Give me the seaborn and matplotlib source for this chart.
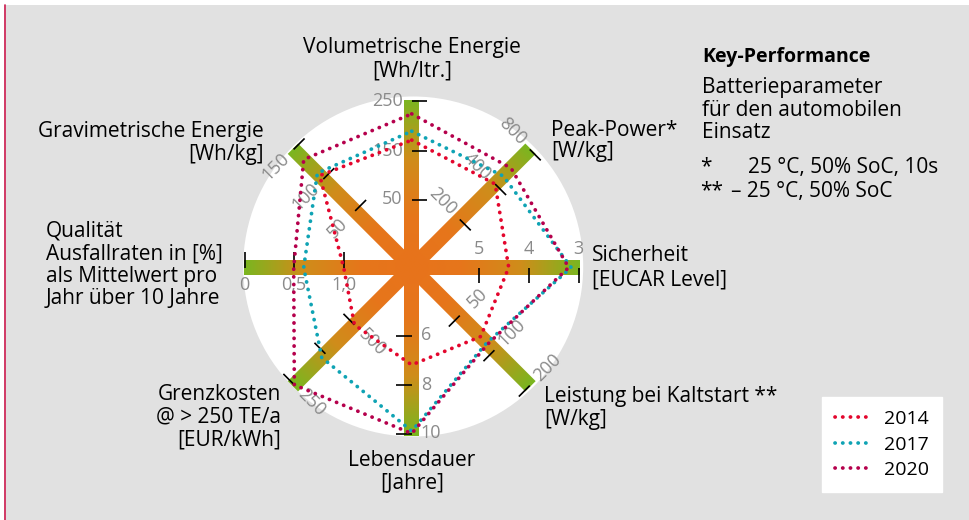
import numpy as np
import pandas as pd
import matplotlib
matplotlib.use("Agg")
import matplotlib.pyplot as plt
import seaborn as sns
from matplotlib.colors import LinearSegmentedColormap
from matplotlib.collections import LineCollection
from matplotlib.patches import Polygon, Circle, Rectangle
from matplotlib.lines import Line2D


# Achsen des Netzdiagramms, im Uhrzeigersinn ab oben
achsen = ["Volumetrische Energie", "Peak-Power", "Sicherheit", "Kaltstart",
          "Lebensdauer", "Grenzkosten", "Qualität", "Gravimetrische Energie"]
skala = ["lin", "log", "lin", "log", "lin", "lin", "lin", "lin"]
tick_werte = [[50, 150, 250], [200, 400, 800], [5, 4, 3], [50, 100, 200],
              [6, 8, 10], [500, 375, 250], [1.0, 0.5, 0.0], [50, 100, 150]]
tick_texte = [["50", "150", "250"], ["200", "400", "800"], ["5", "4", "3"],
              ["50", "100", "200"], ["6", "8", "10"], ["500", "", "250"],
              ["1,0", "0,5", "0"], ["50", "100", "150"]]

jahre = ["2014", "2017", "2020"]
werte_2014 = [171, 400, 4.4, 76, 7.2, 500, 1.0, 106]
werte_2017 = [189, 470, 3.15, 86, 9.9, 360, 0.6, 110]
werte_2020 = [224, 550, 3.2, 88, 10, 250, 0.5, 133]

farben = {"2014": "#e3062d", "2017": "#0fa3b4", "2020": "#b5004c"}

# Layout (Pixelkoordinaten)
cx, cy = 411.7, 267.5
L = 168.0
halbe_breite = 7.3
winkel = [90, 45, 0, -45, -90, -135, 180, 135]
tick_radius = [[68, 117, 166.5], [68, 118, 167], [67, 117, 167], [68, 117, 167],
               [68, 117, 166], [81, 122, 166], [68, 118, 167], [80, 125, 167]]


def richtung(w):
    a = np.deg2rad(w)
    return np.array([np.cos(a), -np.sin(a)])


def radius(i, v):
    t = np.array(tick_werte[i], float)
    v = float(v)
    if skala[i] == "log":
        t, v = np.log(t), np.log(v)
    if t[0] > t[-1]:
        t, v = -t, -v
    return np.interp(v, t, tick_radius[i])


sns.set_theme(style="white")
plt.rcParams["font.family"] = ["Open Sans", "DejaVu Sans"]
plt.rcParams["text.color"] = "black"

fig = plt.figure(figsize=(9.69, 5.2), dpi=100, facecolor="white")
ax = fig.add_axes([0, 0, 1, 1])
ax.axis("off")

ax.add_patch(Rectangle((6, 5), 969, 520, facecolor="#e1e1e1", edgecolor="none", zorder=0))
ax.plot([5.5, 5.5], [5, 520], color="#c8174a", lw=1.2, zorder=1)
ax.add_patch(Circle((cx + 1.5, cy - 1), 170, facecolor="white", edgecolor="none", zorder=1))

# Balken mit Farbverlauf orange -> gruen
cmap = LinearSegmentedColormap.from_list(
    "balken", [(0, "#e8731b"), (0.3, "#e6761b"), (0.65, "#cf8d1a"), (1.0, "#7ab620")])
n = 500
xs = np.linspace(cx - L - 4, cx + L + 4, n)
ys = np.linspace(cy - L - 4, cy + L + 4, n)
X, Y = np.meshgrid(xs, ys)
bild = cmap(np.clip(np.hypot(X - cx, Y - cy) / L, 0, 1))
for w in [90, 45, 0, -45]:
    d = richtung(w)
    p = richtung(w + 90)
    c = np.array([cx, cy])
    ecken = [c + L * d + halbe_breite * p, c + L * d - halbe_breite * p,
             c - L * d - halbe_breite * p, c - L * d + halbe_breite * p]
    im = ax.imshow(bild, extent=(xs[0], xs[-1], ys[-1], ys[0]), origin="upper",
                   aspect="auto", zorder=2, interpolation="bilinear")
    im.set_clip_path(Polygon(ecken, closed=True, transform=ax.transData))

# Ticks und Tick-Beschriftungen
grau = "#8a8a8a"
segmente = []
for i, w in enumerate(winkel):
    d, q, p = richtung(w), richtung(w - 90), richtung(w + 90)
    for r, txt in zip(tick_radius[i], tick_texte[i]):
        pt = np.array([cx, cy]) + r * d
        segmente.append([pt, pt + 15.5 * q])
        if not txt:
            continue
        if w in (45, -45, -135, 135):
            rot = (w - 90 + 90) % 180 - 90
            pos = pt + 25 * p
            ax.text(pos[0], pos[1], txt, ha="center", va="center", rotation=rot,
                    rotation_mode="anchor", color=grau, fontsize=13, zorder=3)
        else:
            pos = pt + 9 * p
            ha = {90: "right", 0: "center", -90: "left", 180: "center"}[w]
            va = {90: "center", 0: "bottom", -90: "center", 180: "top"}[w]
            ax.text(pos[0], pos[1], txt, ha=ha, va=va, color=grau,
                    fontsize=13, zorder=3)
ax.add_collection(LineCollection(segmente, colors="black", linewidths=1.2, zorder=3))

# Datenreihen
zeilen = []
for jahr, werte in zip(jahre, [werte_2014, werte_2017, werte_2020]):
    for k in list(range(len(achsen))) + [0]:
        pt = np.array([cx, cy]) + radius(k, werte[k]) * richtung(winkel[k])
        zeilen.append({"x": pt[0], "y": pt[1], "Jahr": jahr})
df = pd.DataFrame(zeilen)
punkt = dict(linestyle=(0, (0.05, 2.0)), dash_capstyle="round", lw=2.7)
sns.lineplot(data=df, x="x", y="y", hue="Jahr", palette=farben, sort=False,
             estimator=None, legend=False, ax=ax, zorder=4, **punkt)

# Achsentitel
fs = 15
ax.text(412, 59, "Volumetrische Energie\n[Wh/ltr.]", ha="center", va="center",
        multialignment="center", fontsize=fs, linespacing=1.13)
ax.text(264, 143, "Gravimetrische Energie\n[Wh/kg]", ha="right", va="center",
        multialignment="right", fontsize=fs, linespacing=1.13)
ax.text(551, 141, "Peak-Power*\n[W/kg]", ha="left", va="center", fontsize=fs, linespacing=1.05)
ax.text(46, 265, "Qualität\nAusfallraten in [%]\nals Mittelwert pro\nJahr über 10 Jahre",
        ha="left", va="center", fontsize=fs, linespacing=1.1)
ax.text(592, 268, "Sicherheit\n[EUCAR Level]", ha="left", va="center", fontsize=fs,
        linespacing=1.22)
ax.text(281, 417, "Grenzkosten\n@ > 250 TE/a\n[EUR/kWh]", ha="right", va="center",
        multialignment="right", fontsize=fs, linespacing=1.1)
ax.text(412, 472, "Lebensdauer\n[Jahre]", ha="center", va="center",
        multialignment="center", fontsize=fs, linespacing=1.1)
ax.text(544, 408, "Leistung bei Kaltstart **\n[W/kg]", ha="left", va="center",
        fontsize=fs, linespacing=1.13)

ax.text(702, 57, "Key-Performance", ha="left", va="center", fontsize=14, fontweight="bold")
ax.text(702, 110, "Batterieparameter\nfür den automobilen\nEinsatz", ha="left", va="center",
        fontsize=fs, linespacing=1.08)
ax.text(700, 167, "*", ha="left", va="center", fontsize=fs)
ax.text(748, 167, "25 °C, 50% SoC, 10s", ha="left", va="center", fontsize=fs)
ax.text(700, 191, "**", ha="left", va="center", fontsize=fs)
ax.text(731, 191, "– 25 °C, 50% SoC", ha="left", va="center", fontsize=fs)

# Legende
griffe = [Line2D([], [], color=farben[j], **punkt) for j in jahre]
leg = ax.legend(griffe, jahre, loc="upper left", bbox_to_anchor=(822, 397),
                bbox_transform=ax.transData, fontsize=14, handlelength=1.9,
                handletextpad=0.6, labelspacing=0.38, borderpad=0.68,
                borderaxespad=0, fancybox=False, framealpha=1)
leg.get_frame().set_facecolor("white")
leg.get_frame().set_edgecolor("white")

ax.set_xlim(0, 969)
ax.set_ylim(520, 0)
fig.savefig("out.png", dpi=100)
